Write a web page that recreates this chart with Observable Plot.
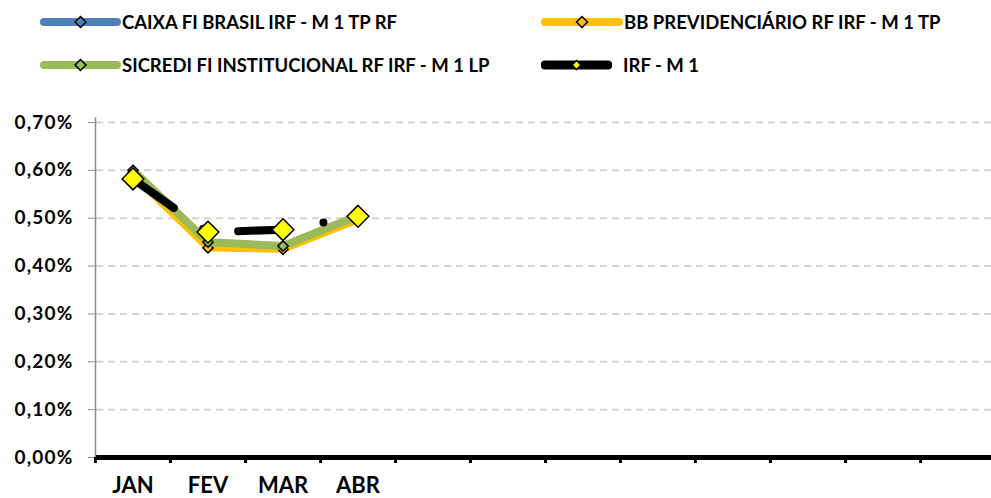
<!DOCTYPE html>
<html>
<head>
<meta charset="utf-8">
<script src="https://cdn.jsdelivr.net/npm/d3@7"></script>
<script src="https://cdn.jsdelivr.net/npm/@observablehq/plot@0.6"></script>
<style>
  body { margin: 0; background: #fff; font-family: Lato, "Liberation Sans", sans-serif; }
  #legend { position: relative; width: 991px; height: 90px; }
  .lg { position: absolute; display: flex; align-items: center; height: 20px; }
  .lg span { font-weight: bold; font-size: 18.5px; color: #000; white-space: nowrap; }
  #chart svg { display: block; }
  g[aria-label="y-axis tick label"] text { letter-spacing: 1.2px; }
</style>
</head>
<body>
<div id="legend"></div>
<div id="chart"></div>
<script>
const months = ["JAN","FEV","MAR","ABR","MAI","JUN","JUL","AGO","SET","OUT","NOV","DEZ"];
const monthLabels = ["JAN","FEV","MAR","ABR","","","","","","","",""];
const seriesNames = ["CAIXA FI BRASIL IRF - M 1 TP RF","BB PREVIDENCIÁRIO RF IRF - M 1 TP","SICREDI FI INSTITUCIONAL RF IRF - M 1 LP","IRF - M 1"];
const seriesColors = ["#4F81BD","#FFC000","#9BBB59","#000000"];
const caixa = [0.595, 0.445, 0.440, 0.500];
const bb = [0.590, 0.438, 0.435, 0.497];
const sicredi = [0.600, 0.450, 0.442, 0.505];
const irfm1 = [0.582, 0.471, 0.476, 0.504];
const yTicks = [0, 0.1, 0.2, 0.3, 0.4, 0.5, 0.6, 0.7];

const allValues = [caixa, bb, sicredi, irfm1];
const rows = (vals) => vals.map((v, i) => ({i: i + 0.5, v}));
const fmt = d => d.toFixed(2).replace(".", ",") + "%";

// Legend
const legendPos = [
  {left: 44, top: 12, len: 73, gap: 1}, {left: 545, top: 12, len: 74, gap: 1},
  {left: 44, top: 55, len: 73, gap: 1}, {left: 545, top: 55, len: 63, gap: 11}
];
const legend = document.getElementById("legend");
seriesNames.forEach((name, k) => {
  const p = legendPos[k];
  const div = document.createElement("div");
  div.className = "lg";
  div.style.left = (p.left - 4) + "px";
  div.style.top = p.top + "px";
  const isIdx = k === 3;
  const fill = isIdx ? "#FFFF00" : seriesColors[k];
  const w = isIdx ? 9 : 8;
  const mx = p.len / 2 + 4;
  const r = isIdx ? 4.5 : 5.5;
  div.innerHTML = `<svg width="${p.len + 8}" height="20"><line x1="4" x2="${p.len + 4}" y1="10" y2="10" stroke="${seriesColors[k]}" stroke-width="${w}" stroke-linecap="round"/><path d="M${mx},${10 - r}L${mx + r},10L${mx},${10 + r}L${mx - r},10Z" fill="${fill}" stroke="#000" stroke-width="1.5"/></svg><span style="margin-left:${p.gap}px">${name}</span>`;
  legend.appendChild(div);
});

const lineW = [7, 7, 8];
const chart = Plot.plot({
  width: 991,
  height: 408,
  marginLeft: 96,
  marginRight: 0,
  marginTop: 20,
  marginBottom: 41,
  x: {type: "linear", domain: [0, 12], range: [95, 995]},
  y: {domain: [0, 0.7], range: [367, 32]},
  style: {fontFamily: "Lato, 'Liberation Sans', sans-serif", overflow: "visible"},
  marks: [
    Plot.ruleY(yTicks.filter(t => t > 0), {stroke: "#d4d4d4", strokeWidth: 2, strokeDasharray: "7,5"}),
    Plot.ruleX([0], {y1: 0, y2: 0.71, stroke: "#8c8c8c", strokeWidth: 1.5}),
    Plot.axisY({ticks: yTicks, tickFormat: fmt, tickSize: 8, tickPadding: 15, stroke: "#8c8c8c", fontSize: 19, fontWeight: "bold", fill: "#000", label: null}),
    Plot.axisX({ticks: d3.range(13), tickFormat: () => "", tickSize: 6, strokeWidth: 3, stroke: "#000", label: null}),
    Plot.ruleY([0], {stroke: "#000", strokeWidth: 5}),
    Plot.text(monthLabels.map((t, i) => ({i: i + 0.5, t})).filter(d => d.t), {x: "i", y: () => 0, text: "t", dy: 28, fontSize: 22, fontWeight: "bold", fill: "#000"}),
    ...[0, 1, 2].flatMap(k => [
      Plot.line(rows(allValues[k]), {x: "i", y: "v", stroke: seriesColors[k], strokeWidth: lineW[k], strokeLinejoin: "round"}),
      Plot.dot(rows(allValues[k]), {x: "i", y: "v", symbol: "diamond2", r: 4.6, fill: seriesColors[k], stroke: "#000", strokeWidth: 1.5})
    ]),
    Plot.line(rows(irfm1), {x: "i", y: "v", stroke: "#000", strokeWidth: 8, strokeLinecap: "round", strokeDasharray: "50,36,0,36"}),
    Plot.dot(rows(irfm1), {x: "i", y: "v", symbol: "diamond2", r: 9.8, fill: "#FFFF00", stroke: "#000", strokeWidth: 1.5})
  ]
});
document.getElementById("chart").appendChild(chart);
</script>
</body>
</html>
